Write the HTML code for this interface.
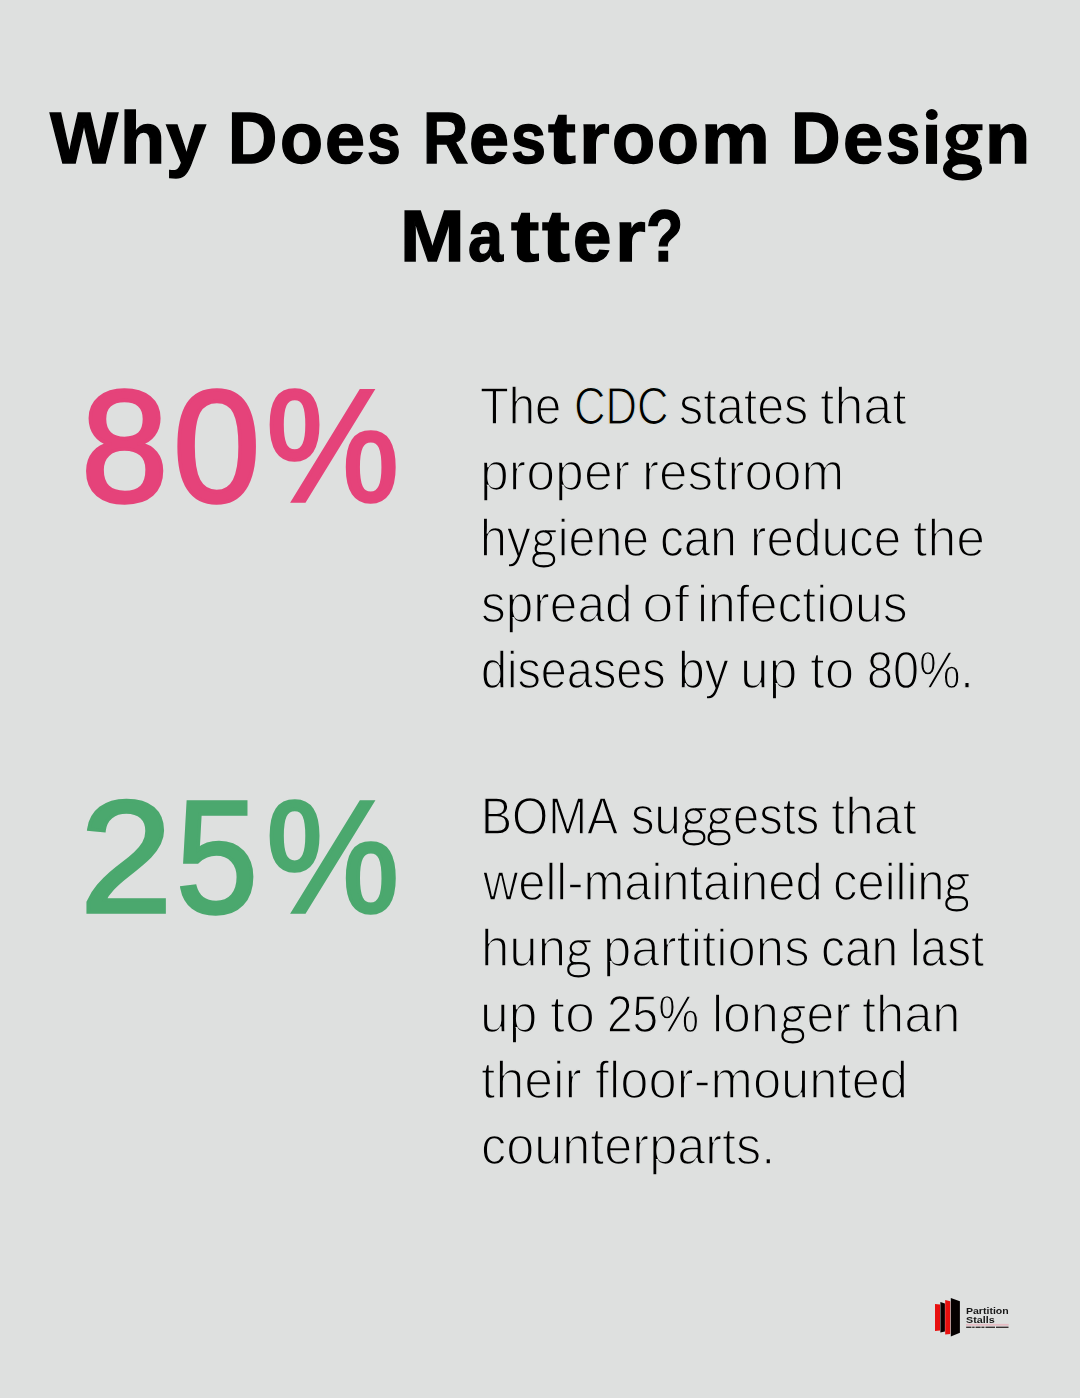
<!DOCTYPE html>
<html><head><meta charset="utf-8"><title>Why Does Restroom Design Matter?</title>
<style>
html,body{margin:0;padding:0}
body{width:1080px;height:1398px;background:#dee0df;position:relative;overflow:hidden;font-family:"Liberation Sans",sans-serif}
.l{position:absolute;white-space:nowrap;line-height:1;transform-origin:0 0}
.t{font-weight:700;color:#000;-webkit-text-stroke:1.4px #000}
.b{font-weight:400;color:#000;-webkit-text-stroke:1.6px #dee0df}
.hg{color:transparent;-webkit-text-stroke-color:transparent}
.n1{font-weight:400;color:#e5437a;-webkit-text-stroke:3.6px #e5437a}
.n2{font-weight:400;color:#4ba86e;-webkit-text-stroke:3.6px #4ba86e}
</style></head><body>
<div class="l t" style="left:49.93px;top:101.0px;font-size:73px;transform:scaleX(0.9886)">W</div>
<div class="l t" style="left:119.54px;top:101.0px;font-size:73px;transform:scaleX(1.0123)">h</div>
<div class="l t" style="left:166.23px;top:101.0px;font-size:73px;transform:scaleX(0.9857)">y</div>
<div class="l t" style="left:227.99px;top:101.0px;font-size:73px;transform:scaleX(0.9342)">D</div>
<div class="l t" style="left:279.9px;top:101.0px;font-size:73px;transform:scaleX(0.9648)">o</div>
<div class="l t" style="left:325.46px;top:101.0px;font-size:73px;transform:scaleX(0.9866)">e</div>
<div class="l t" style="left:367.33px;top:101.0px;font-size:73px;transform:scaleX(0.8307)">s</div>
<div class="l t" style="left:423.11px;top:101.0px;font-size:73px;transform:scaleX(0.8584)">R</div>
<div class="l t" style="left:469.26px;top:101.0px;font-size:73px;transform:scaleX(0.9866)">e</div>
<div class="l t" style="left:511.37px;top:101.0px;font-size:73px;transform:scaleX(0.8609)">s</div>
<div class="l t" style="left:547.79px;top:101.0px;font-size:73px;transform:scaleX(1.1447)">t</div>
<div class="l t" style="left:578.64px;top:101.0px;font-size:73px;transform:scaleX(1.0753)">r</div>
<div class="l t" style="left:611.5px;top:101.0px;font-size:73px;transform:scaleX(0.9673)">o</div>
<div class="l t" style="left:656.71px;top:101.0px;font-size:73px;transform:scaleX(0.9387)">o</div>
<div class="l t" style="left:700.51px;top:101.0px;font-size:73px;transform:scaleX(1.0609)">m</div>
<div class="l t" style="left:791.37px;top:101.0px;font-size:73px;transform:scaleX(0.9386)">D</div>
<div class="l t" style="left:843.44px;top:101.0px;font-size:73px;transform:scaleX(0.992)">e</div>
<div class="l t" style="left:886.31px;top:101.0px;font-size:73px;transform:scaleX(0.8417)">s</div>
<div class="l t" style="left:984.7px;top:101.0px;font-size:73px;transform:scaleX(1.0132)">n</div>
<div class="l t" style="left:400.15px;top:199.0px;font-size:73px;transform:scaleX(1.0644)">M</div>
<div class="l t" style="left:468.13px;top:199.0px;font-size:73px;transform:scaleX(0.8615)">a</div>
<div class="l t" style="left:510.89px;top:199.0px;font-size:73px;transform:scaleX(1.1614)">t</div>
<div class="l t" style="left:542.39px;top:199.0px;font-size:73px;transform:scaleX(1.1447)">t</div>
<div class="l t" style="left:573.45px;top:199.0px;font-size:73px;transform:scaleX(0.9456)">e</div>
<div class="l t" style="left:615.43px;top:199.0px;font-size:73px;transform:scaleX(1.0773)">r</div>
<div class="l t" style="left:646.08px;top:199.0px;font-size:73px;transform:scaleX(0.8336)">?</div>
<div class="l b" style="left:479.58px;top:381.3px;font-size:51px;transform:scaleX(0.9259);-webkit-text-stroke-width:1.33px">The</div>
<div class="l b" style="left:573.76px;top:381.3px;font-size:51px;transform:scaleX(0.8567);-webkit-text-stroke-width:1.2px">CDC</div>
<div class="l b" style="left:679.42px;top:381.3px;font-size:51px;transform:scaleX(0.9505);-webkit-text-stroke-width:1.45px">states</div>
<div class="l b" style="left:820.15px;top:381.3px;font-size:51px;transform:scaleX(1.0196);-webkit-text-stroke-width:1.6px">that</div>
<div class="l b" style="left:480.21px;top:447.3px;font-size:51px;transform:scaleX(1.0177);-webkit-text-stroke-width:1.62px">proper</div>
<div class="l b" style="left:642.0px;top:447.3px;font-size:51px;transform:scaleX(1.0048);-webkit-text-stroke-width:1.59px">restroom</div>
<div class="l b" style="left:480.44px;top:513.3px;font-size:51px;transform:scaleX(0.9463);-webkit-text-stroke-width:1.42px">hy<span class="hg">g</span>iene</div>
<div class="l b" style="left:660.28px;top:513.3px;font-size:51px;transform:scaleX(0.9352);-webkit-text-stroke-width:1.35px">can</div>
<div class="l b" style="left:749.71px;top:513.3px;font-size:51px;transform:scaleX(0.9692);-webkit-text-stroke-width:1.48px">reduce</div>
<div class="l b" style="left:912.66px;top:513.3px;font-size:51px;transform:scaleX(1.0167);-webkit-text-stroke-width:1.59px">the</div>
<div class="l b" style="left:480.57px;top:579.3px;font-size:51px;transform:scaleX(0.972);-webkit-text-stroke-width:1.5px">spread</div>
<div class="l b" style="left:642.37px;top:579.3px;font-size:51px;transform:scaleX(1.1175);-webkit-text-stroke-width:1.77px">of</div>
<div class="l b" style="left:697.17px;top:579.3px;font-size:51px;transform:scaleX(0.978);-webkit-text-stroke-width:1.52px">infectious</div>
<div class="l b" style="left:481.17px;top:645.3px;font-size:51px;transform:scaleX(0.9176);-webkit-text-stroke-width:1.33px">diseases</div>
<div class="l b" style="left:677.53px;top:645.3px;font-size:51px;transform:scaleX(0.9426);-webkit-text-stroke-width:1.36px">by</div>
<div class="l b" style="left:740.46px;top:645.3px;font-size:51px;transform:scaleX(1.0098);-webkit-text-stroke-width:1.57px">up</div>
<div class="l b" style="left:810.3px;top:645.3px;font-size:51px;transform:scaleX(1.0423);-webkit-text-stroke-width:1.62px">to</div>
<div class="l b" style="left:867.31px;top:645.3px;font-size:51px;transform:scaleX(0.9158);-webkit-text-stroke-width:1.3px">80%.</div>
<div class="l b" style="left:481.03px;top:791.3px;font-size:51px;transform:scaleX(0.9131);-webkit-text-stroke-width:1.32px">BOMA</div>
<div class="l b" style="left:630.68px;top:791.3px;font-size:51px;transform:scaleX(0.9223);-webkit-text-stroke-width:1.36px">su<span class="hg">g</span><span class="hg">g</span>ests</div>
<div class="l b" style="left:830.88px;top:791.3px;font-size:51px;transform:scaleX(1.0072);-webkit-text-stroke-width:1.57px">that</div>
<div class="l b" style="left:482.85px;top:857.3px;font-size:51px;transform:scaleX(0.9585);-webkit-text-stroke-width:1.47px">well-maintained</div>
<div class="l b" style="left:833.48px;top:857.3px;font-size:51px;transform:scaleX(0.9596);-webkit-text-stroke-width:1.46px">ceilin<span class="hg">g</span></div>
<div class="l b" style="left:480.63px;top:923.3px;font-size:51px;transform:scaleX(0.9988);-webkit-text-stroke-width:1.57px">hun<span class="hg">g</span></div>
<div class="l b" style="left:602.82px;top:923.3px;font-size:51px;transform:scaleX(0.9984);-webkit-text-stroke-width:1.58px">partitions</div>
<div class="l b" style="left:821.07px;top:923.3px;font-size:51px;transform:scaleX(0.9379);-webkit-text-stroke-width:1.36px">can</div>
<div class="l b" style="left:909.9px;top:923.3px;font-size:51px;transform:scaleX(0.9354);-webkit-text-stroke-width:1.38px">last</div>
<div class="l b" style="left:480.46px;top:989.3px;font-size:51px;transform:scaleX(1.0098);-webkit-text-stroke-width:1.57px">up</div>
<div class="l b" style="left:550.07px;top:989.3px;font-size:51px;transform:scaleX(1.06);-webkit-text-stroke-width:1.64px">to</div>
<div class="l b" style="left:607.31px;top:989.3px;font-size:51px;transform:scaleX(0.9016);-webkit-text-stroke-width:1.27px">25%</div>
<div class="l b" style="left:712.13px;top:989.3px;font-size:51px;transform:scaleX(0.9805);-webkit-text-stroke-width:1.51px">lon<span class="hg">g</span>er</div>
<div class="l b" style="left:862.22px;top:989.3px;font-size:51px;transform:scaleX(0.9925);-webkit-text-stroke-width:1.55px">than</div>
<div class="l b" style="left:480.85px;top:1055.3px;font-size:51px;transform:scaleX(1.0166);-webkit-text-stroke-width:1.6px">their</div>
<div class="l b" style="left:595.24px;top:1055.3px;font-size:51px;transform:scaleX(0.995);-webkit-text-stroke-width:1.58px">floor-mounted</div>
<div class="l b" style="left:480.97px;top:1121.3px;font-size:51px;transform:scaleX(0.9885);-webkit-text-stroke-width:1.55px">counterparts.</div>
<div class="l n1" style="left:81.37px;top:365.72px;font-size:160.283px;transform:scaleX(0.9799)">8</div>
<div class="l n1" style="left:173.41px;top:365.72px;font-size:160.283px;transform:scaleX(0.9792)">0</div>
<div class="l n1" style="left:265.91px;top:365.72px;font-size:160.283px;transform:scaleX(0.936)">%</div>
<div class="l n2" style="left:80.01px;top:778.14px;font-size:158.862px;transform:scaleX(1.0454)">2</div>
<div class="l n2" style="left:175.97px;top:778.14px;font-size:158.862px;transform:scaleX(0.9269)">5</div>
<div class="l n2" style="left:265.94px;top:778.14px;font-size:158.862px;transform:scaleX(0.9439)">%</div>
<svg style="position:absolute;left:938px;top:115px" width="52" height="70" viewBox="938 115 52 70">
<g fill="#000">
<ellipse cx="962" cy="137.3" rx="16.3" ry="13.1"/>
<path d="M961 124.25 H982.5 V130.2 H961 Z"/>
<path d="M952 146.5 C949 149 947.2 152 947.3 155 C947.4 158 949 160 951.5 161.5 L980.5 163 L980 160 C978.5 157.8 976.5 156.8 974 156.1 C968 154.6 961 154 957.5 152.8 C955.5 151.9 954.5 150.5 954 148.8 Z"/>
<ellipse cx="962.5" cy="168.5" rx="19.5" ry="12.1"/>
</g>
<g fill="#dee0df">
<ellipse cx="962" cy="137.4" rx="6.1" ry="7.4"/>
<ellipse cx="962.3" cy="169.2" rx="10.3" ry="4.9"/>
</g>
</svg>
<svg style="position:absolute;left:920px;top:105px" width="24" height="65" viewBox="920 105 24 65">
<rect x="926.1" y="124.75" width="10.95" height="39.15" fill="#000"/>
<ellipse cx="931.8" cy="114.5" rx="5.9" ry="5.4" fill="#000"/>
</svg>
<svg style="position:absolute;left:0;top:0" width="1080" height="1398" viewBox="0 0 1080 1398">
<defs>
<g id="lg" fill="none" stroke="#000" stroke-width="2.1">
<ellipse cx="11.1" cy="-18" rx="7.6" ry="6.8"/>
<path d="M12.5 -24.75 H23.3" stroke-width="1.8"/>
<path d="M6.2 -12.8 C4 -11.2 3.2 -8.6 3.3 -6.7 C3.4 -4.2 5.5 -2.85 8.5 -2.85"/>
<path d="M1.05 3.75 C1.05 -1.5 4 -2.85 11.4 -2.85 C18.8 -2.85 21.75 -1.5 21.75 3.75 C21.75 8.5 17.5 10.35 11.4 10.35 C5.3 10.35 1.05 8.5 1.05 3.75 Z"/>
</g>
</defs>
<use href="#lg" transform="translate(532.4 556)"/>
<use href="#lg" transform="translate(682.6 834)"/>
<use href="#lg" transform="translate(707.6 834)"/>
<use href="#lg" transform="translate(945.3 900)"/>
<use href="#lg" transform="translate(567.2 966)"/>
<use href="#lg" transform="translate(781.4 1032)"/>
</svg>
<svg style="position:absolute;left:928px;top:1292px;will-change:transform" width="90" height="50" viewBox="928 1292 90 50">
<polygon points="935,1303.9 940,1304.6 940,1330.5 935,1330.9" fill="#e8100f"/>
<polygon points="940.4,1302 944.9,1303.5 944.9,1331.6 940.4,1332.6" fill="#080000"/>
<polygon points="945.2,1300 950.2,1301.3 950.2,1333.9 945.2,1334.6" fill="#e8100f"/>
<polygon points="950.8,1298.1 959.9,1301.3 959.9,1332.7 950.8,1336.6" fill="#050000"/>
<g font-family="Liberation Sans" font-weight="700" fill="#161616">
<text x="966" y="1314" font-size="9" textLength="42.7" lengthAdjust="spacingAndGlyphs">Partition</text>
<text x="966" y="1322.6" font-size="9" textLength="28.6" lengthAdjust="spacingAndGlyphs">Stalls</text>
</g>
<rect x="966" y="1323.9" width="42.7" height="1.8" fill="#e6bcc3"/>
<g fill="#3a3434">
<rect x="966.2" y="1326.6" width="5.2" height="1.4"/>
<rect x="972.2" y="1326.6" width="2.4" height="1.4"/>
<rect x="975.6" y="1326.6" width="5" height="1.4"/>
<rect x="981.4" y="1326.6" width="3" height="1.4"/>
<rect x="985.5" y="1326.6" width="9.5" height="1.4"/>
<rect x="996" y="1326.6" width="12.5" height="1.4"/>
</g>
</svg>

</body></html>
